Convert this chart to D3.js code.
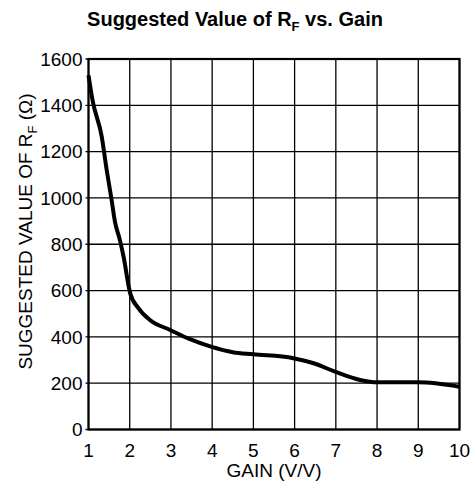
<!DOCTYPE html>
<html>
<head>
<meta charset="utf-8">
<script src="https://cdn.jsdelivr.net/npm/d3@7.9.0/dist/d3.min.js"></script>
<style>
  body { margin: 0; background: #fff; }
  svg text { font-family: "Liberation Sans", Arial, sans-serif; fill: #000; }
</style>
</head>
<body>
<svg width="472" height="493"></svg>
<script>
// values
const gain = [1, 1.1, 1.32, 1.44, 1.56, 1.64, 1.76, 1.85, 2.01, 2.21, 2.49, 2.98, 3.46, 3.97, 4.5, 5.0, 5.97, 6.46, 6.98, 7.59, 8.0, 9.0, 10];
const rf = [1530, 1420, 1266, 1122, 992, 899, 819, 747, 589, 524, 473, 430, 390, 358, 334, 325, 308, 286, 250, 214, 204, 204, 185];
const xTicks = [1, 2, 3, 4, 5, 6, 7, 8, 9, 10];
const yTicks = [0, 200, 400, 600, 800, 1000, 1200, 1400, 1600];

let svg = d3.select('svg');
let plotLeft = 88.5, plotRight = 459.5, plotTop = 59, plotBottom = 429.5;

let x = d3.scaleLinear().domain([1, 10]).range([plotLeft, plotRight]);
let y = d3.scaleLinear().domain([0, 1600]).range([plotBottom, plotTop]);

// grid
svg.append('g')
  .selectAll('line')
  .data(xTicks)
  .join('line')
  .attr('x1', d => x(d)).attr('x2', d => x(d))
  .attr('y1', plotTop).attr('y2', plotBottom)
  .attr('stroke', '#000').attr('stroke-width', 1.3);

svg.append('g')
  .selectAll('line')
  .data(yTicks)
  .join('line')
  .attr('x1', plotLeft - 3).attr('x2', plotRight)
  .attr('y1', d => y(d)).attr('y2', d => y(d))
  .attr('stroke', '#000').attr('stroke-width', 1.3);

// frame
svg.append('rect')
  .attr('x', plotLeft).attr('y', plotTop)
  .attr('width', plotRight - plotLeft).attr('height', plotBottom - plotTop)
  .attr('fill', 'none').attr('stroke', '#000').attr('stroke-width', 2.2);

// tick labels
svg.append('g')
  .selectAll('text')
  .data(xTicks)
  .join('text')
  .attr('x', d => x(d)).attr('y', 457)
  .attr('text-anchor', 'middle')
  .style('font-size', '19px')
  .text(d => d);

svg.append('g')
  .selectAll('text')
  .data(yTicks)
  .join('text')
  .attr('x', 82.5).attr('y', d => y(d))
  .attr('dy', '0.35em')
  .attr('text-anchor', 'end')
  .style('font-size', '19px')
  .text(d => d);

// curve
let data = gain.map((g, i) => ({ g: g, v: rf[i] }));
let line = d3.line()
  .x(d => x(d.g))
  .y(d => y(d.v))
  .curve(d3.curveMonotoneX);

svg.append('path')
  .datum(data)
  .attr('d', line)
  .attr('fill', 'none')
  .attr('stroke', '#000')
  .attr('stroke-width', 4)
  .attr('stroke-linejoin', 'round');

// title
let title = svg.append('text')
  .attr('x', 235).attr('y', 26)
  .attr('text-anchor', 'middle')
  .style('font-size', '20px')
  .style('font-weight', 'bold');
title.append('tspan').text('Suggested Value of R');
title.append('tspan').attr('dy', 5).style('font-size', '13px').text('F');
title.append('tspan').attr('dy', -5).text(' vs. Gain');

// axis labels
svg.append('text')
  .attr('x', 274).attr('y', 477)
  .attr('text-anchor', 'middle')
  .style('font-size', '19px')
  .text('GAIN (V/V)');

let yl = svg.append('text')
  .attr('transform', 'translate(32,231.5) rotate(-90)')
  .attr('text-anchor', 'middle')
  .style('font-size', '19px');
yl.append('tspan').text('SUGGESTED VALUE OF R');
yl.append('tspan').attr('dy', 5).style('font-size', '13px').text('F');
yl.append('tspan').attr('dy', -5).text(' (Ω)');
</script>
</body>
</html>
